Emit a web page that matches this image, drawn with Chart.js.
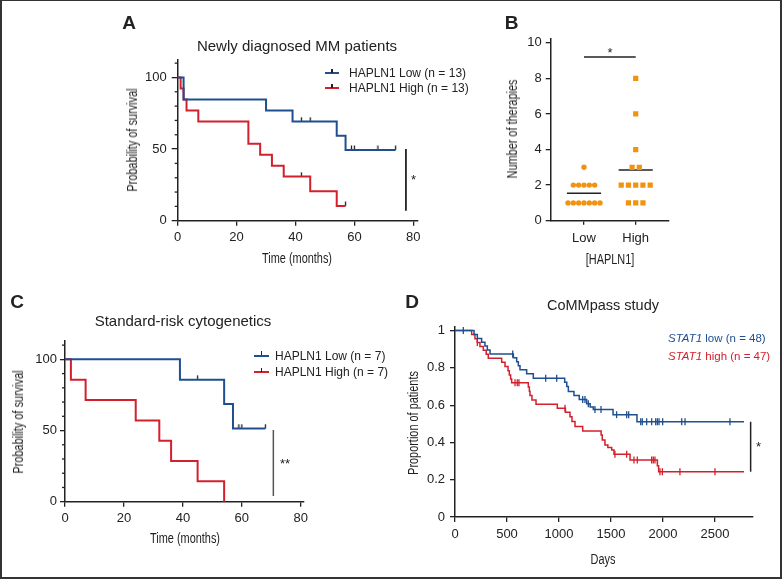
<!DOCTYPE html>
<html>
<head>
<meta charset="utf-8">
<script src="https://cdn.jsdelivr.net/npm/chart.js@4.4.1/dist/chart.umd.min.js"></script>
<style>
body { margin: 0; background: #fff; }
#fig { position: relative; width: 782px; height: 579px; overflow: hidden;
       font-family: "Liberation Sans", Arial, sans-serif; color: #222; }
#frame { position: absolute; left: 0; top: 0; width: 782px; height: 579px;
         box-sizing: border-box; border: 2px solid #333; border-top-width: 1.5px; }
canvas { position: absolute; left: 0; top: 0; }
.lbl { position: absolute; white-space: nowrap; line-height: 1; transform: translate(-50%, -50%); }
.letter { font-weight: bold; font-size: 19px; }
.ttl { font-size: 15px; }
.star { font-size: 13px; }
/* condensed axis titles (no narrow font installed, so squeeze Liberation Sans) */
.xt { font-size: 14px; transform: translate(-50%, -50%) scaleX(0.78); }
.yt { font-size: 14px; transform: translate(-50%, -50%) rotate(-90deg) scaleX(0.78); }
.leg { position: absolute; white-space: nowrap; line-height: 1; font-size: 12px; transform: translateY(-50%); }
.sw { position: absolute; height: 2px; }
.tk { position: absolute; width: 1.3px; height: 4px; background: #222; }
</style>
</head>
<body>
<div id="fig">
  <div id="frame"></div>
  <canvas id="chartA" width="782" height="579"></canvas>
  <canvas id="chartB" width="782" height="579"></canvas>
  <canvas id="chartC" width="782" height="579"></canvas>
  <canvas id="chartD" width="782" height="579"></canvas>

  <div class="lbl letter" style="left:129px;top:22px">A</div>
  <div class="lbl letter" style="left:511.5px;top:22px">B</div>
  <div class="lbl letter" style="left:17px;top:301px">C</div>
  <div class="lbl letter" style="left:412px;top:301px">D</div>

  <div class="lbl ttl" style="left:297px;top:44.5px">Newly diagnosed MM patients</div>
  <div class="lbl ttl" style="left:183px;top:320px">Standard-risk cytogenetics</div>
  <div class="lbl ttl" style="left:603px;top:305px;font-size:14.5px">CoMMpass study</div>

  <!-- axis titles -->
  <div class="lbl yt" style="left:131.7px;top:139.5px">Probability of survival</div>
  <div class="lbl xt" style="left:297px;top:258px">Time (months)</div>
  <div class="lbl yt" style="left:511.7px;top:129px">Number of therapies</div>
  <div class="lbl xt" style="left:610px;top:259px">[HAPLN1]</div>
  <div class="lbl yt" style="left:18px;top:421.5px">Probability of survival</div>
  <div class="lbl xt" style="left:185px;top:538px">Time (months)</div>
  <div class="lbl yt" style="left:413px;top:423px">Proportion of patients</div>
  <div class="lbl xt" style="left:603px;top:559px">Days</div>

  <!-- legend A -->
  <div class="sw" style="left:325px;top:71.7px;width:14px;background:#1f4f8f"></div>
  <div class="tk" style="left:331.4px;top:68.5px"></div>
  <div class="leg" style="left:349px;top:72.7px">HAPLN1 Low (n = 13)</div>
  <div class="sw" style="left:325px;top:87.3px;width:14px;background:#d2202c"></div>
  <div class="tk" style="left:331.4px;top:84px"></div>
  <div class="leg" style="left:349px;top:88.3px">HAPLN1 High (n = 13)</div>

  <!-- legend C -->
  <div class="sw" style="left:254px;top:354.5px;width:15px;background:#1f4f8f"></div>
  <div class="tk" style="left:260.8px;top:351.3px"></div>
  <div class="leg" style="left:275px;top:355.5px">HAPLN1 Low (n = 7)</div>
  <div class="sw" style="left:254px;top:371px;width:15px;background:#d2202c"></div>
  <div class="tk" style="left:260.8px;top:367.8px"></div>
  <div class="leg" style="left:275px;top:372px">HAPLN1 High (n = 7)</div>

  <!-- legend D -->
  <div class="leg" style="left:668px;top:339.3px;font-size:11.5px;color:#1f4f8f"><i>STAT1</i> low (n = 48)</div>
  <div class="leg" style="left:668px;top:357.3px;font-size:11.5px;color:#d2202c"><i>STAT1</i> high (n = 47)</div>

  <div class="lbl star" style="left:413.5px;top:179px">*</div>
  <div class="lbl star" style="left:610px;top:52px">*</div>
  <div class="lbl star" style="left:285px;top:463px">**</div>
  <div class="lbl star" style="left:758.5px;top:446px">*</div>
</div>

<script>
// ======================
// DATA
// ======================

// A - newly diagnosed MM (months, % surviving after each event)
const aLowTimes = [2, 30, 39, 54, 57];
const aLowSurv = [84.6, 76.9, 69.2, 59.3, 49.4];
const aLowCensor = [42, 45, 59, 60, 68, 74];
const aHighTimes = [1, 2, 3, 7, 24, 28, 32, 36, 45, 54];
const aHighSurv = [92.3, 84.6, 76.9, 69.2, 53.8, 46.1, 38.4, 30.8, 20.5, 10.3];
const aHighCensor = [42, 57];

// B - number of therapies per patient
const groups = ["Low", "High"];
const lowTherapies = [3, 2, 2, 2, 2, 2, 1, 1, 1, 1, 1, 1, 1];
const highTherapies = [8, 6, 4, 3, 3, 2, 2, 2, 2, 2, 1, 1, 1];
const therapyTicks = [0, 2, 4, 6, 8, 10];

// C - standard-risk cytogenetics
const cLowTimes = [39, 54, 57];
const cLowSurv = [85.7, 68.6, 51.4];
const cLowCensor = [45, 59, 60, 68];
const cHighTimes = [2, 7, 24, 32, 36, 45, 54];
const cHighSurv = [85.7, 71.4, 57.1, 42.9, 28.6, 14.3, 0];
const cHighCensor = [];

const monthTicks = [0, 20, 40, 60, 80];
const survTicks = [0, 50, 100];
const survMinor = [10, 20, 30, 40, 60, 70, 80, 90, 110];

// D - CoMMpass (days, proportion)
const dLowTimes = [183, 215, 256, 288, 311, 337, 561, 593, 609, 625, 689, 753,
  1055, 1075, 1090, 1144, 1195, 1266, 1300, 1330, 1520, 1750];
const dLowSurv = [0.979, 0.958, 0.938, 0.917, 0.896, 0.875, 0.854, 0.833, 0.812, 0.79, 0.768, 0.745,
  0.723, 0.70, 0.674, 0.652, 0.63, 0.608, 0.59, 0.577, 0.549, 0.511];
const dLowCensor = [80, 555, 872, 978, 1228, 1250, 1282, 1346, 1404, 1554, 1651, 1670,
  1786, 1801, 1843, 1891, 1930, 1946, 1962, 1997, 2180, 2212, 2644];
const dHighTimes = [160, 192, 214, 240, 272, 300, 320, 449, 481, 510, 522, 535, 545,
  705, 715, 721, 740, 779, 984, 1062, 1106, 1125, 1154, 1228,
  1405, 1416, 1442, 1470, 1507, 1529, 1683, 1946, 1958];
const dHighSurv = [0.979, 0.957, 0.936, 0.915, 0.894, 0.873, 0.852, 0.830, 0.807, 0.785, 0.762, 0.74, 0.72,
  0.697, 0.675, 0.652, 0.628, 0.605, 0.583, 0.562, 0.538, 0.512, 0.485, 0.462,
  0.44, 0.413, 0.386, 0.373, 0.36, 0.336, 0.306, 0.275, 0.243];
const dHighCensor = [215, 577, 599, 615, 1058, 1538, 1651, 1721, 1753, 1891, 1907, 1923,
  1971, 1994, 2163, 2500];
const dEnd = 2779;
const dayTicks = [0, 500, 1000, 1500, 2000, 2500];
const propTicks = [0, 0.2, 0.4, 0.6, 0.8, 1];

// ======================
// HELPERS
// ======================
const W = 782, H = 579;
const INK = "#222";
const BLUE = "#1f4f8f", RED = "#d2202c", ORANGE = "#f2930f";
const SANS = "'Liberation Sans', Arial, sans-serif";

function kmLine(times, surv, start, end) {
  const pts = [{x: 0, y: start}];
  times.forEach((t, i) => pts.push({x: t, y: surv[i]}));
  pts.push({x: end, y: surv[surv.length - 1]});
  return pts;
}

function survAt(times, surv, start, t) {
  let s = start;
  times.forEach((e, i) => { if (e <= t) s = surv[i]; });
  return s;
}

function censorPts(times, surv, start, cens) {
  return cens.map(t => ({x: t, y: survAt(times, surv, start, t)}));
}

// little tick that sits on top of the line
function upTick() {
  const c = document.createElement("canvas");
  c.width = 3; c.height = 10;
  const g = c.getContext("2d");
  g.strokeStyle = INK; g.lineWidth = 1.3;
  g.beginPath(); g.moveTo(1.5, 0.5); g.lineTo(1.5, 5); g.stroke();
  return c;
}
const TICK_IMG = upTick();

function kmSets(times, surv, cens, start, end, color, lw, dTicks) {
  const line = {
    data: kmLine(times, surv, start, end), showLine: true, stepped: "before",
    borderColor: color, borderWidth: lw, pointRadius: 0, clip: false
  };
  const marks = dTicks
    ? {data: censorPts(times, surv, start, cens), pointStyle: "line", rotation: 90,
       pointRadius: 3.5, borderColor: color, borderWidth: 1.3, clip: false}
    : {data: censorPts(times, surv, start, cens), pointStyle: TICK_IMG,
       pointRadius: 3, clip: false};
  return [line, marks];
}

function axis(o, horizontal) {
  return {
    type: "linear", position: horizontal ? "bottom" : "left",
    min: o.min, max: o.max,
    afterBuildTicks: s => { s.ticks = o.ticks.map(v => ({value: v})); },
    afterFit: s => { if (horizontal) s.height = o.size; else s.width = o.size; },
    grid: {drawOnChartArea: false, tickLength: o.tickLen, color: INK, lineWidth: 1.3},
    border: {color: INK, width: 1.5},
    ticks: {color: INK, font: {family: SANS, size: 13}, padding: o.pad,
            maxRotation: 0, autoSkip: false, callback: o.fmt || (v => v)},
    title: {display: false}
  };
}

// minor ticks + significance bars
function extras(ex) {
  return {
    id: "extras",
    afterDatasetsDraw(chart) {
      const {ctx, scales: {x, y}, chartArea} = chart;
      ctx.save();
      ctx.strokeStyle = INK; ctx.lineWidth = 1.3;
      (ex.minorY || []).forEach(v => {
        const py = y.getPixelForValue(v);
        ctx.beginPath(); ctx.moveTo(chartArea.left - 3, py); ctx.lineTo(chartArea.left, py); ctx.stroke();
      });
      (ex.bars || []).forEach(b => {
        ctx.strokeStyle = b.color || INK; ctx.lineWidth = b.width || 1.6;
        ctx.beginPath();
        ctx.moveTo(x.getPixelForValue(b.x1), y.getPixelForValue(b.y1));
        ctx.lineTo(x.getPixelForValue(b.x2), y.getPixelForValue(b.y2));
        ctx.stroke();
      });
      ctx.restore();
    }
  };
}

function makePanel(id, area, xo, yo, datasets, ex) {
  new Chart(document.getElementById(id), {
    type: "scatter",
    data: {datasets},
    options: {
      responsive: false, animation: false, events: [],
      layout: {padding: {left: area.left - yo.size, top: area.top,
                         right: W - area.right, bottom: H - area.bottom - xo.size}},
      scales: {x: axis(xo, true), y: axis(yo, false)},
      plugins: {legend: {display: false}, tooltip: {enabled: false}}
    },
    plugins: [extras(ex)]
  });
}

function spread(values, center, gap) {
  const counts = {}, seen = {};
  values.forEach(v => { counts[v] = (counts[v] || 0) + 1; });
  return values.map(v => {
    const k = seen[v] = (seen[v] || 0) + 1;
    return {x: center + (k - 1 - (counts[v] - 1) / 2) * gap, y: v};
  });
}
const mean = arr => arr.reduce((a, b) => a + b, 0) / arr.length;

// ======================
// PANEL A
// ======================
makePanel("chartA",
  {left: 177.7, top: 60, right: 418, bottom: 220.7},
  {min: 0, max: 81.6, ticks: monthTicks, size: 45, tickLen: 5, pad: 4},
  {min: 0, max: 112.2, ticks: survTicks, size: 54, tickLen: 6, pad: 5},
  [...kmSets(aLowTimes, aLowSurv, aLowCensor, 100, 74, BLUE, 2),
   ...kmSets(aHighTimes, aHighSurv, aHighCensor, 100, 57, RED, 2)],
  {minorY: survMinor, bars: [{x1: 77.5, y1: 50, x2: 77.5, y2: 7, width: 1.8}]}
);

// ======================
// PANEL B
// ======================
const lowMean = mean(lowTherapies), highMean = mean(highTherapies);
makePanel("chartB",
  {left: 550.7, top: 38.3, right: 669, bottom: 220.7},
  {min: 0.356, max: 2.644, ticks: [1, 2], size: 45, tickLen: 4, pad: 6,
   fmt: v => groups[v - 1]},
  {min: 0, max: 10.25, ticks: therapyTicks, size: 47, tickLen: 5, pad: 4},
  [
    {data: spread(lowTherapies, 1, 0.103), pointStyle: "circle", pointRadius: 2.7,
     backgroundColor: ORANGE, borderWidth: 0},
    {data: spread(highTherapies, 2, 0.14), pointStyle: "rect", pointRadius: 3.7,
     backgroundColor: ORANGE, borderWidth: 0},
    {data: [{x: 1 - 0.33, y: lowMean}, {x: 1 + 0.33, y: lowMean}], showLine: true,
     borderColor: INK, borderWidth: 1.5, pointRadius: 0},
    {data: [{x: 2 - 0.33, y: highMean}, {x: 2 + 0.33, y: highMean}], showLine: true,
     borderColor: INK, borderWidth: 1.5, pointRadius: 0}
  ],
  {bars: [{x1: 1, y1: 9.2, x2: 2, y2: 9.2, width: 1.5}]}
);

// ======================
// PANEL C
// ======================
makePanel("chartC",
  {left: 65, top: 341, right: 304, bottom: 501.7},
  {min: 0, max: 81.1, ticks: monthTicks, size: 45, tickLen: 5, pad: 4},
  {min: 0, max: 112.9, ticks: survTicks, size: 55, tickLen: 5, pad: 3},
  [...kmSets(cLowTimes, cLowSurv, cLowCensor, 100, 68, BLUE, 2),
   ...kmSets(cHighTimes, cHighSurv, cHighCensor, 100, 54, RED, 2)],
  {minorY: survMinor, bars: [{x1: 70.7, y1: 50.4, x2: 70.7, y2: 4, color: "#555", width: 1.5}]}
);

// ======================
// PANEL D
// ======================
makePanel("chartD",
  {left: 455, top: 326.7, right: 752.3, bottom: 517},
  {min: 0, max: 2859, ticks: dayTicks, size: 50, tickLen: 5, pad: 5},
  {min: 0, max: 1.021, ticks: propTicks, size: 50, tickLen: 5, pad: 5},
  [...kmSets(dLowTimes, dLowSurv, dLowCensor, 1, dEnd, BLUE, 1.5, true),
   ...kmSets(dHighTimes, dHighSurv, dHighCensor, 1, dEnd, RED, 1.5, true)],
  {bars: [{x1: 2843, y1: dLowSurv[dLowSurv.length - 1], x2: 2843, y2: dHighSurv[dHighSurv.length - 1], width: 1.5}]}
);
</script>
</body>
</html>
